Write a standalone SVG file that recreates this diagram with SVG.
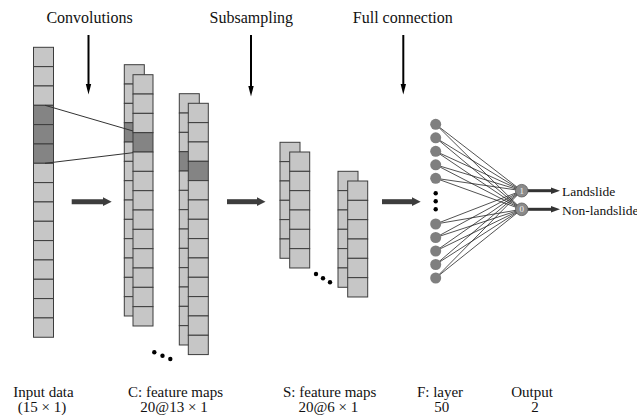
<svg xmlns="http://www.w3.org/2000/svg" width="637" height="415" viewBox="0 0 637 415">
  <style>
    .cell { fill: #c6c6c6; stroke: #3c3c3c; stroke-width: 1; }
    .dark { fill: #848484; stroke: #3c3c3c; stroke-width: 1; }
    .title { font-family: "Liberation Serif", "Times New Roman", serif; font-size: 16px; fill: #111; text-anchor: middle; }
    .cap { font-family: "Liberation Serif", "Times New Roman", serif; font-size: 15px; fill: #111; text-anchor: middle; }
    .out { font-family: "Liberation Serif", "Times New Roman", serif; font-size: 13.5px; fill: #111; }
    .fc { stroke: #262626; stroke-width: 0.8; fill: none; }
    .hid { fill: #7f7f7f; }
    .onode { fill: #8a8a8a; stroke: #5a5a5a; stroke-width: 0.8; }
    .bit { font-family: "Liberation Serif", serif; font-size: 9px; fill: #f4f4f4; text-anchor: middle; }
    .dot { fill: #000; }
    .vline { stroke: #000; stroke-width: 2; }
    .hline { stroke: #3d3d3d; stroke-width: 5; }
    .oline { stroke: #333; stroke-width: 3; }
  </style>
  <defs>
    <!-- one 19.33px cell, reused for every column -->
    <symbol id="cellL" overflow="visible"><rect class="cell" x="0" y="0" width="20" height="19.33"/></symbol>
    <symbol id="cellD" overflow="visible"><rect class="dark" x="0" y="0" width="20" height="19.33"/></symbol>
  </defs>

  <rect width="637" height="415" fill="#ffffff"/>

  <!-- stage titles -->
  <g id="titles">
    <text class="title" x="89.5" y="23">Convolutions</text>
    <text class="title" x="251.3" y="23">Subsampling</text>
    <text class="title" x="402.8" y="23">Full connection</text>
  </g>

  <!-- input column: 15 cells, cells 4-6 highlighted -->
  <g id="input">
    <use href="#cellL" x="33.5" y="47.3"/>
    <use href="#cellL" x="33.5" y="66.63"/>
    <use href="#cellL" x="33.5" y="85.96"/>
    <use href="#cellD" x="33.5" y="105.29"/>
    <use href="#cellD" x="33.5" y="124.62"/>
    <use href="#cellD" x="33.5" y="143.95"/>
    <use href="#cellL" x="33.5" y="163.28"/>
    <use href="#cellL" x="33.5" y="182.61"/>
    <use href="#cellL" x="33.5" y="201.94"/>
    <use href="#cellL" x="33.5" y="221.27"/>
    <use href="#cellL" x="33.5" y="240.6"/>
    <use href="#cellL" x="33.5" y="259.93"/>
    <use href="#cellL" x="33.5" y="279.26"/>
    <use href="#cellL" x="33.5" y="298.59"/>
    <use href="#cellL" x="33.5" y="317.92"/>
  </g>

  <!-- convolution feature maps, 13 cells each -->
  <g id="conv-map-1">
    <g transform="translate(124.3,64.7)">
      <use href="#cellL" y="0"/><use href="#cellL" y="19.33"/><use href="#cellL" y="38.66"/>
      <use href="#cellD" y="57.99"/><use href="#cellL" y="77.32"/><use href="#cellL" y="96.65"/>
      <use href="#cellL" y="115.98"/><use href="#cellL" y="135.31"/><use href="#cellL" y="154.64"/>
      <use href="#cellL" y="173.97"/><use href="#cellL" y="193.3"/><use href="#cellL" y="212.63"/>
      <use href="#cellL" y="231.96"/>
    </g>
    <g transform="translate(133,74.7)">
      <use href="#cellL" y="0"/><use href="#cellL" y="19.33"/><use href="#cellL" y="38.66"/>
      <use href="#cellD" y="57.99"/><use href="#cellL" y="77.32"/><use href="#cellL" y="96.65"/>
      <use href="#cellL" y="115.98"/><use href="#cellL" y="135.31"/><use href="#cellL" y="154.64"/>
      <use href="#cellL" y="173.97"/><use href="#cellL" y="193.3"/><use href="#cellL" y="212.63"/>
      <use href="#cellL" y="231.96"/>
    </g>
  </g>
  <g id="conv-map-2">
    <g transform="translate(179.3,93.7)">
      <use href="#cellL" y="0"/><use href="#cellL" y="19.33"/><use href="#cellL" y="38.66"/>
      <use href="#cellD" y="57.99"/><use href="#cellL" y="77.32"/><use href="#cellL" y="96.65"/>
      <use href="#cellL" y="115.98"/><use href="#cellL" y="135.31"/><use href="#cellL" y="154.64"/>
      <use href="#cellL" y="173.97"/><use href="#cellL" y="193.3"/><use href="#cellL" y="212.63"/>
      <use href="#cellL" y="231.96"/>
    </g>
    <g transform="translate(188.3,103.3)">
      <use href="#cellL" y="0"/><use href="#cellL" y="19.33"/><use href="#cellL" y="38.66"/>
      <use href="#cellD" y="57.99"/><use href="#cellL" y="77.32"/><use href="#cellL" y="96.65"/>
      <use href="#cellL" y="115.98"/><use href="#cellL" y="135.31"/><use href="#cellL" y="154.64"/>
      <use href="#cellL" y="173.97"/><use href="#cellL" y="193.3"/><use href="#cellL" y="212.63"/>
      <use href="#cellL" y="231.96"/>
    </g>
  </g>
  <g id="conv-ellipsis">
    <circle class="dot" cx="154.3" cy="352.3" r="2.2"/>
    <circle class="dot" cx="162.5" cy="355.8" r="2.2"/>
    <circle class="dot" cx="170.3" cy="359" r="2.2"/>
  </g>

  <!-- subsampled feature maps, 6 cells each -->
  <g id="pool-map-1">
    <g transform="translate(280,142.3)">
      <use href="#cellL" y="0"/><use href="#cellL" y="19.33"/><use href="#cellL" y="38.66"/>
      <use href="#cellL" y="57.99"/><use href="#cellL" y="77.32"/><use href="#cellL" y="96.65"/>
    </g>
    <g transform="translate(289.7,152)">
      <use href="#cellL" y="0"/><use href="#cellL" y="19.33"/><use href="#cellL" y="38.66"/>
      <use href="#cellL" y="57.99"/><use href="#cellL" y="77.32"/><use href="#cellL" y="96.65"/>
    </g>
  </g>
  <g id="pool-map-2">
    <g transform="translate(338,171.3)">
      <use href="#cellL" y="0"/><use href="#cellL" y="19.33"/><use href="#cellL" y="38.66"/>
      <use href="#cellL" y="57.99"/><use href="#cellL" y="77.32"/><use href="#cellL" y="96.65"/>
    </g>
    <g transform="translate(347.7,181)">
      <use href="#cellL" y="0"/><use href="#cellL" y="19.33"/><use href="#cellL" y="38.66"/>
      <use href="#cellL" y="57.99"/><use href="#cellL" y="77.32"/><use href="#cellL" y="96.65"/>
    </g>
  </g>
  <g id="pool-ellipsis">
    <circle class="dot" cx="316" cy="274" r="2.2"/>
    <circle class="dot" cx="323" cy="278.3" r="2.2"/>
    <circle class="dot" cx="330" cy="282.3" r="2.2"/>
  </g>

  <!-- connectors -->
  <g id="connectors">
    <!-- receptive field of the convolution kernel -->
    <line x1="45" y1="105.3" x2="133" y2="131" stroke="#333" stroke-width="1"/>
    <line x1="45" y1="163.3" x2="133" y2="152.7" stroke="#333" stroke-width="1"/>

    <!-- stage pointers -->
    <line class="vline" x1="88.5" y1="35" x2="88.5" y2="86"/>
    <polygon points="85.8,84 91.2,84 88.5,94.5" fill="#000"/>
    <line class="vline" x1="251" y1="35" x2="251" y2="88"/>
    <polygon points="248.3,86 253.7,86 251,96.5" fill="#000"/>
    <line class="vline" x1="403.3" y1="35" x2="403.3" y2="86"/>
    <polygon points="400.6,84 406,84 403.3,94.5" fill="#000"/>

    <!-- flow arrows between stages -->
    <line class="hline" x1="71.7" y1="201.7" x2="104" y2="201.7"/>
    <polygon points="103,197.3 111.7,201.7 103,206.1" fill="#3d3d3d"/>
    <line class="hline" x1="227" y1="201.7" x2="258" y2="201.7"/>
    <polygon points="257,197.3 265.5,201.7 257,206.1" fill="#3d3d3d"/>
    <line class="hline" x1="382" y1="201.7" x2="413" y2="201.7"/>
    <polygon points="412,197.3 420.7,201.7 412,206.1" fill="#3d3d3d"/>

    <!-- dense connections: hidden layer to outputs -->
    <g class="fc">
      <path d="M435.7,124.3 L521.7,190.7 M435.7,124.3 L521.7,209.3"/>
      <path d="M435.7,137.8 L521.7,190.7 M435.7,137.8 L521.7,209.3"/>
      <path d="M435.7,151.3 L521.7,190.7 M435.7,151.3 L521.7,209.3"/>
      <path d="M435.7,164.8 L521.7,190.7 M435.7,164.8 L521.7,209.3"/>
      <path d="M435.7,178.3 L521.7,190.7 M435.7,178.3 L521.7,209.3"/>
      <path d="M435.7,224 L521.7,190.7 M435.7,224 L521.7,209.3"/>
      <path d="M435.7,237.5 L521.7,190.7 M435.7,237.5 L521.7,209.3"/>
      <path d="M435.7,251 L521.7,190.7 M435.7,251 L521.7,209.3"/>
      <path d="M435.7,264.5 L521.7,190.7 M435.7,264.5 L521.7,209.3"/>
      <path d="M435.7,278 L521.7,190.7 M435.7,278 L521.7,209.3"/>
    </g>

    <!-- output pointers -->
    <line class="oline" x1="527" y1="190.7" x2="553" y2="190.7"/>
    <polygon points="551,187.5 560,190.7 551,193.9" fill="#333"/>
    <line class="oline" x1="527" y1="209.3" x2="553" y2="209.3"/>
    <polygon points="551,206.1 560,209.3 551,212.5" fill="#333"/>
  </g>

  <!-- fully connected layer -->
  <g id="hidden-layer">
    <circle class="hid" cx="435.7" cy="124.3" r="5.5"/>
    <circle class="hid" cx="435.7" cy="137.8" r="5.5"/>
    <circle class="hid" cx="435.7" cy="151.3" r="5.5"/>
    <circle class="hid" cx="435.7" cy="164.8" r="5.5"/>
    <circle class="hid" cx="435.7" cy="178.3" r="5.5"/>
    <circle class="dot" cx="435.7" cy="193.3" r="2.2"/>
    <circle class="dot" cx="435.7" cy="201.2" r="2.2"/>
    <circle class="dot" cx="435.7" cy="209.2" r="2.2"/>
    <circle class="hid" cx="435.7" cy="224" r="5.5"/>
    <circle class="hid" cx="435.7" cy="237.5" r="5.5"/>
    <circle class="hid" cx="435.7" cy="251" r="5.5"/>
    <circle class="hid" cx="435.7" cy="264.5" r="5.5"/>
    <circle class="hid" cx="435.7" cy="278" r="5.5"/>
  </g>

  <g id="output-landslide">
    <circle class="onode" cx="521.7" cy="190.7" r="6.3"/>
    <text class="bit" x="521.7" y="193.8">1</text>
    <text class="out" x="562" y="196">Landslide</text>
  </g>
  <g id="output-non-landslide">
    <circle class="onode" cx="521.7" cy="209.3" r="6.3"/>
    <text class="bit" x="521.7" y="212.4">0</text>
    <text class="out" x="562" y="214.5">Non-landslide</text>
  </g>

  <!-- layer captions -->
  <g id="captions">
    <text class="cap" x="43.5" y="397">Input data</text>
    <text class="cap" x="42" y="411.5">(15 × 1)</text>
    <text class="cap" x="175.5" y="397">C: feature maps</text>
    <text class="cap" x="174" y="411.5">20@13 × 1</text>
    <text class="cap" x="329.7" y="397">S: feature maps</text>
    <text class="cap" x="328.3" y="411.5">20@6 × 1</text>
    <text class="cap" x="440" y="397">F: layer</text>
    <text class="cap" x="441.8" y="411.5">50</text>
    <text class="cap" x="532" y="397">Output</text>
    <text class="cap" x="535" y="411.5">2</text>
  </g>
</svg>
